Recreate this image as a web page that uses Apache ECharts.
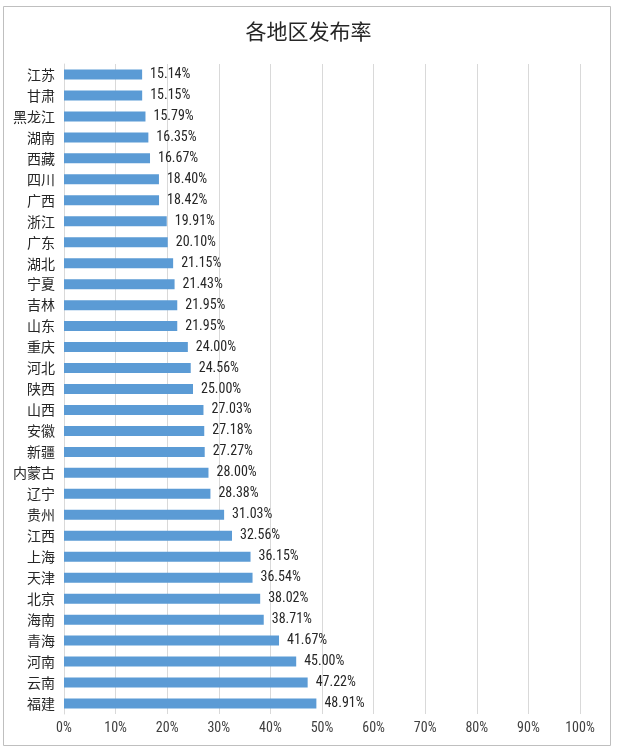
<!DOCTYPE html>
<html>
<head>
<meta charset="utf-8">
<script src="https://cdn.jsdelivr.net/npm/echarts@6/dist/echarts.min.js"></script>
<style>
html,body{margin:0;padding:0;background:#fff;}
#c{width:617px;height:750px;}
</style>
</head>
<body>
<div id="c"></div>
<script>
var categories = ['江苏','甘肃','黑龙江','湖南','西藏','四川','广西','浙江','广东','湖北','宁夏','吉林','山东','重庆','河北','陕西','山西','安徽','新疆','内蒙古','辽宁','贵州','江西','上海','天津','北京','海南','青海','河南','云南','福建'];
var values = [15.14,15.15,15.79,16.35,16.67,18.40,18.42,19.91,20.10,21.15,21.43,21.95,21.95,24.00,24.56,25.00,27.03,27.18,27.27,28.00,28.38,31.03,32.56,36.15,36.54,38.02,38.71,41.67,45.00,47.22,48.91];
var titleText = '各地区发布率';

var chart = echarts.init(document.getElementById('c'));
var font = '"Noto Sans CJK SC", sans-serif';
var numFont = '"Roboto Condensed", "DejaVu Sans Condensed", "Noto Sans CJK SC", sans-serif';
chart.setOption({
  animation: false,
  backgroundColor: '#fff',
  textStyle: { fontFamily: font },
  graphic: [{
    type: 'rect',
    shape: { x: 3.5, y: 6.5, width: 607, height: 739 },
    style: { fill: 'none', stroke: '#bfbfbf', lineWidth: 1 },
    silent: true
  }],
  title: {
    text: titleText,
    left: 'center',
    top: 16,
    textStyle: { fontFamily: font, fontSize: 21, fontWeight: 'normal', color: '#262626' }
  },
  grid: { left: 64, right: 37, top: 64, bottom: 36, containLabel: false },
  xAxis: {
    type: 'value',
    min: 0,
    max: 100,
    interval: 10,
    axisLine: { show: false },
    axisTick: { show: false },
    splitLine: { show: true, lineStyle: { color: '#d9d9d9', width: 1 } },
    axisLabel: {
      formatter: '{value}%',
      color: '#404040',
      fontSize: 14,
      margin: 7,
      fontFamily: numFont
    }
  },
  yAxis: {
    type: 'category',
    data: categories,
    inverse: true,
    axisLine: { show: true, lineStyle: { color: '#d9d9d9' } },
    axisTick: { show: false },
    axisLabel: { color: '#262626', fontSize: 14, margin: 9, fontFamily: font }
  },
  series: [{
    type: 'bar',
    data: values,
    barWidth: 10,
    itemStyle: { color: '#5b9bd5' },
    label: {
      show: true,
      position: 'right',
      distance: 8,
      color: '#262626',
      fontSize: 14,
      fontFamily: numFont,
      formatter: function (p) { return p.value.toFixed(2) + '%'; }
    }
  }]
});
</script>
</body>
</html>
